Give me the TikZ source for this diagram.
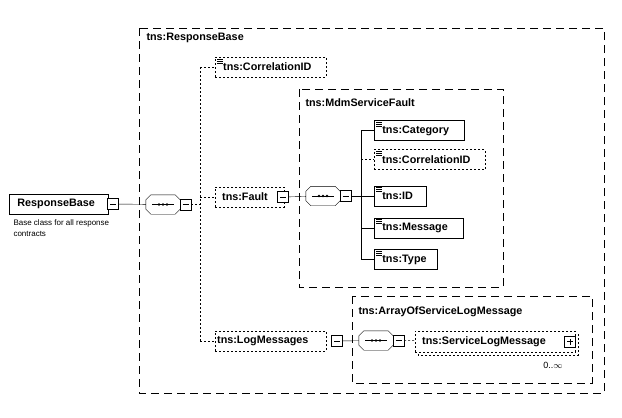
\documentclass[tikz,border=0pt]{standalone}
\usepackage{fontspec}
\setmainfont{Liberation Sans}
\tikzset{
  elem/.style={draw,thick,anchor=west,minimum height=20pt,inner sep=2pt,font=\bfseries\fontsize{10.8}{12}\selectfont,align=left},
  opt/.style={elem,thin,dash pattern=on 2pt off 2pt},
  tbox/.style={draw,thin,dash pattern=on 8pt off 5pt},
  pm/.style={draw,thin,fill=white,minimum size=11pt,inner sep=0pt},
  seq/.style={minimum width=34pt,minimum height=19pt,inner sep=0pt},
  ttl/.style={anchor=west,font=\bfseries\fontsize{10.8}{12}\selectfont},
  lnk/.style={thin},
  olnk/.style={thin,dash pattern=on 2pt off 2pt}
}
\newcommand{\elicon}[1]{%
  \draw[thin] ([shift={(2pt,-2pt)}]#1.north west) -- ++(6pt,0)
    ([shift={(2pt,-4pt)}]#1.north west) -- ++(6pt,0)
    ([shift={(2pt,-6pt)}]#1.north west) -- ++(6pt,0);}
\newcommand{\seqdots}[1]{%
  \draw[thin] ([xshift=5pt]#1.north west) -- ([xshift=-5pt]#1.north east)
    -- ([yshift=-5pt]#1.north east) -- ([yshift=5pt]#1.south east)
    -- ([xshift=-5pt]#1.south east) -- ([xshift=5pt]#1.south west)
    -- ([yshift=5pt]#1.south west) -- ([yshift=-5pt]#1.north west) -- cycle;
  \draw[semithick] ([xshift=-11pt]#1.center) -- ([xshift=11pt]#1.center);
  \foreach \dx in {-4,0,4} \fill ([xshift=\dx pt]#1.center) circle (1.4pt);}
\newcommand{\minus}[1]{\draw[thin] ([xshift=-3pt]#1.center) -- ([xshift=3pt]#1.center);}
\begin{document}
\begin{tikzpicture}[x=1pt,y=-1pt]
\useasboundingbox (0,0) rectangle (622,418);

% type boxes
\draw[tbox] (139,28) rectangle (604,393);
\node[ttl] (tRB) at (143,38) {tns:ResponseBase};
\draw[tbox] (299,89) rectangle (503,287);
\node[ttl] (tMSF) at (302,103) {tns:MdmServiceFault};
\draw[tbox] (352,296) rectangle (592,383);
\node[ttl] (tAOS) at (355,312) {tns:ArrayOfServiceLogMessage};

% root
\node[elem,minimum width=99pt,text width=91pt] (RB) at (9,204) {\hspace*{4pt}ResponseBase};
\node[pm] (RBm) at (113,204) {};
\minus{RBm}
\node[anchor=north west,font=\fontsize{8}{11}\selectfont,align=left] (RBd) at (10,216) {Base class for all response\\contracts};

% first sequence
\node[seq] (S1) at (163,204.5) {};
\seqdots{S1}
\node[pm] (S1m) at (185.5,204.5) {};
\minus{S1m}
\draw[lnk] (RBm) -- (S1);

\coordinate (T1a) at (200,67);
\coordinate (T1b) at (200,341);
\coordinate (T1c) at (200,204.5);
\draw[olnk] (T1a) -- (T1b);
\draw[olnk] (S1m) -- (T1c);

\node[opt,minimum width=111pt,text width=107pt] (CID) at (215,67) {\hspace*{6pt}tns:CorrelationID};
\elicon{CID}
\node[opt,minimum width=69pt,text width=65pt] (F) at (215,197) {\hspace*{5pt}tns:Fault};
\node[pm] (Fm) at (283,197) {};
\minus{Fm}
\node[opt,minimum width=111pt,text width=107pt] (LM) at (215,341) {tns:LogMessages};
\node[pm] (LMm) at (337,341) {};
\minus{LMm}
\draw[olnk] (T1a) -- (CID);
\draw[olnk] (T1a|-F) -- (F);
\draw[olnk] (T1b) -- (LM);

% second sequence
\node[seq] (S2) at (323,196) {};
\seqdots{S2}
\node[pm] (S2m) at (345.5,196) {};
\minus{S2m}
\draw[lnk] (Fm) -- (S2);

\node[elem,minimum width=90pt,text width=86pt] (Cat) at (374,130.5) {\hspace*{6pt}tns:Category};
\node[opt,minimum width=111pt,text width=107pt] (CID2) at (374,159.5) {\hspace*{6pt}tns:CorrelationID};
\node[elem,minimum width=52pt,text width=48pt] (ID) at (374,196) {\hspace*{6pt}tns:ID};
\node[elem,minimum width=89pt,text width=85pt] (Msg) at (374,228) {\hspace*{6pt}tns:Message};
\node[elem,minimum width=63pt,text width=59pt] (Typ) at (374,259.5) {\hspace*{6pt}tns:Type};
\foreach \n in {Cat,CID2,ID,Msg,Typ} {\elicon{\n}}
\coordinate (T2a) at (361,130.5);
\coordinate (T2b) at (361,259.5);
\draw[lnk] (T2a) -- (T2b);
\draw[lnk] (S2m) -- (T2a|-S2m);
\draw[lnk] (T2a) -- (Cat);
\draw[olnk] (T2a|-CID2) -- (CID2);
\draw[lnk] (T2a|-ID) -- (ID);
\draw[lnk] (T2a|-Msg) -- (Msg);
\draw[lnk] (T2b) -- (Typ);

% third sequence
\node[seq] (S3) at (376,340.5) {};
\seqdots{S3}
\node[pm] (S3m) at (398.5,340.5) {};
\minus{S3m}
\draw[lnk] (LMm) -- (S3);

\draw[thin,dash pattern=on 2pt off 2pt] (418,334) rectangle (578,355);
\node[opt,fill=white,minimum width=160pt,text width=156pt,minimum height=21pt] (SLM) at (415,341.5) {\hspace*{5pt}tns:ServiceLogMessage};
\node[pm] (SLMp) at (570,341.5) {};
\draw[thin] ([xshift=-3pt]SLMp.center) -- ([xshift=3pt]SLMp.center)
  ([yshift=-3pt]SLMp.center) -- ([yshift=3pt]SLMp.center);
\draw[olnk] (S3m) -- (SLM);
\node[font=\fontsize{9}{10}\selectfont] (SLMc) at (553,365) {0..$\infty$};

\end{tikzpicture}
\end{document}
